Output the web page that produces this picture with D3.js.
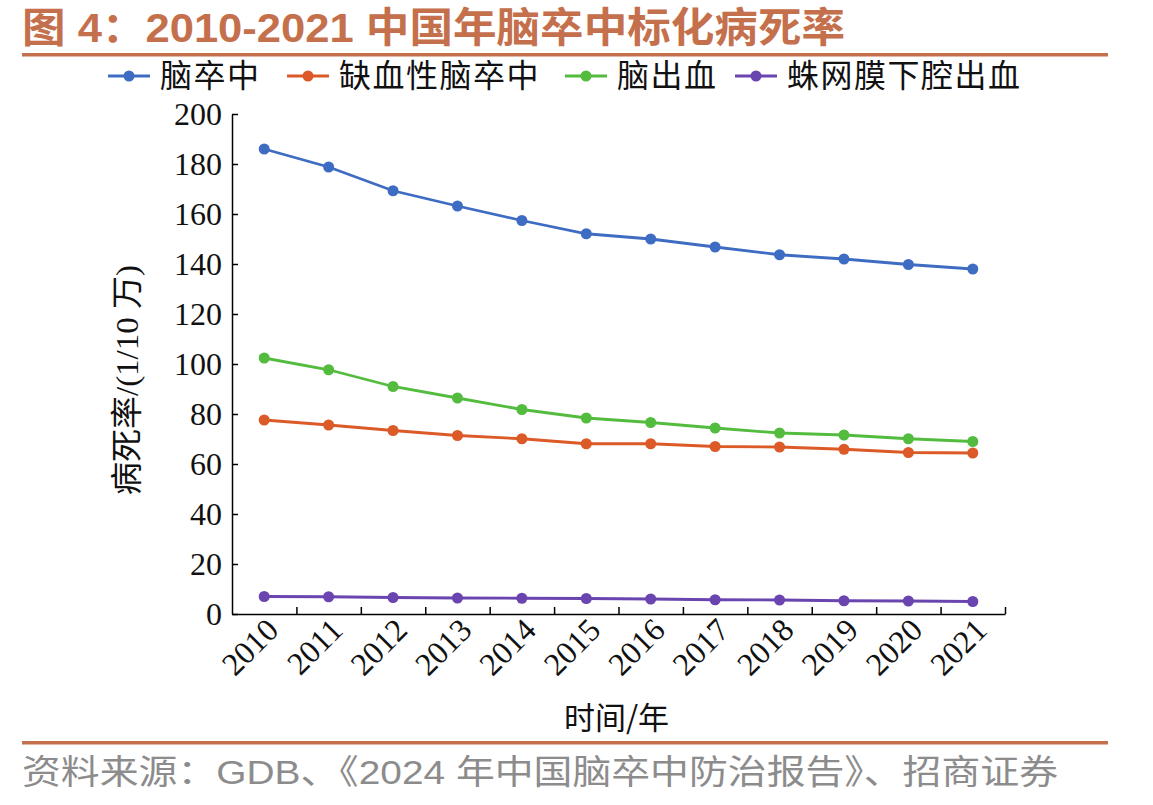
<!DOCTYPE html>
<html>
<head>
<meta charset="utf-8">
<script src="https://cdn.jsdelivr.net/npm/d3@7"></script>
<style>
  body { margin: 0; background: #fff; }
  svg { display: block; }
  .axis path, .axis line { stroke: #000; stroke-width: 1.5; }
  .axis text { font-family: "Liberation Serif", "DejaVu Serif", serif; font-size: 32px; fill: #111; }
</style>
</head>
<body>
<div id="chart"></div>
<script>
// years on the x axis
var years = ['2010', '2011', '2012', '2013', '2014', '2015', '2016', '2017', '2018', '2019', '2020', '2021'];
var yTicks = [0, 20, 40, 60, 80, 100, 120, 140, 160, 180, 200];

// series values (per 100k)
var stroke = [186.0, 178.8, 169.3, 163.2, 157.4, 152.1, 150.0, 146.8, 143.7, 142.0, 139.8, 138.0];
var ischemic = [77.6, 75.6, 73.4, 71.4, 70.1, 68.1, 68.1, 67.0, 66.8, 65.9, 64.6, 64.4];
var hemorrhage = [102.4, 97.7, 91.0, 86.4, 81.8, 78.4, 76.6, 74.4, 72.4, 71.6, 70.1, 69.0];
var subarachnoid = [7.0, 6.9, 6.6, 6.4, 6.3, 6.2, 6.0, 5.7, 5.6, 5.3, 5.2, 5.0];

var seriesNames = ['脑卒中', '缺血性脑卒中', '脑出血', '蛛网膜下腔出血'];
var seriesColors = ['#3F6CC3', '#DC5A27', '#53BC3F', '#6A44AF'];

var series = [stroke, ischemic, hemorrhage, subarachnoid].map(function(vals, i) {
  return { name: seriesNames[i], color: seriesColors[i], values: vals };
});

var W = 1153, H = 805;
var margin = { top: 114, left: 232, right: 148, bottom: 191 };
var width = W - margin.left - margin.right;
var height = H - margin.top - margin.bottom;

var svg = d3.select('#chart').append('svg')
  .attr('width', W)
  .attr('height', H);

var cjk = '"Noto Sans CJK SC", "Noto Sans", sans-serif';
var accent = '#C5704D';

// title (the original is stretched wide)
svg.append('text')
  .attr('x', 22)
  .attr('y', 42)
  .attr('textLength', 823)
  .attr('lengthAdjust', 'spacingAndGlyphs')
  .style('font-family', '"Liberation Sans", Arial, ' + cjk)
  .style('font-size', '41px')
  .style('font-weight', 'bold')
  .style('fill', accent)
  .text('图 4：2010-2021 中国年脑卒中标化病死率');

svg.append('rect')
  .attr('x', 22).attr('y', 53)
  .attr('width', 1086).attr('height', 3.5)
  .attr('fill', accent);

svg.append('rect')
  .attr('x', 22).attr('y', 741)
  .attr('width', 1086).attr('height', 3.5)
  .attr('fill', accent);

// source
svg.append('text')
  .attr('x', 22)
  .attr('y', 784)
  .attr('textLength', 1036)
  .attr('lengthAdjust', 'spacingAndGlyphs')
  .style('font-family', '"Liberation Sans", Arial, ' + cjk)
  .style('font-size', '34px')
  .style('fill', '#8c8c8c')
  .text('资料来源：GDB、《2024 年中国脑卒中防治报告》、招商证券');

var g = svg.append('g')
  .attr('transform', 'translate(' + margin.left + ',' + margin.top + ')');

// scales
var x = d3.scaleBand().domain(years).range([0, width]);
var xEdge = d3.scaleLinear().domain([0, years.length]).range([0, width]);
var y = d3.scaleLinear().domain([0, 200]).range([height, 0]);

// y axis, ticks pointing inward
g.append('g')
  .attr('class', 'axis')
  .call(d3.axisLeft(y).tickValues(yTicks).tickSizeInner(-6).tickSizeOuter(0).tickPadding(10));

// x axis: ticks on the band edges, pointing inward
g.append('g')
  .attr('class', 'axis')
  .attr('transform', 'translate(0,' + height + ')')
  .call(d3.axisBottom(xEdge).tickValues(d3.range(1, years.length + 1)).tickSizeInner(-7).tickSizeOuter(0).tickFormat(''));

// x labels, rotated
g.append('g')
  .attr('class', 'axis')
  .selectAll('text')
  .data(years)
  .enter().append('text')
  .attr('text-anchor', 'end')
  .attr('transform', function(d) {
    return 'translate(' + (x(d) + x.bandwidth() / 2 + 16) + ',' + (height + 18) + ') rotate(-45)';
  })
  .style('font-size', '32px')
  .text(function(d) { return d; });

// axis titles
g.append('text')
  .attr('transform', 'translate(' + (-94) + ',' + (height / 2 + 16) + ') rotate(-90)')
  .attr('text-anchor', 'middle')
  .attr('textLength', 230)
  .attr('lengthAdjust', 'spacingAndGlyphs')
  .style('font-family', '"Liberation Serif", ' + cjk)
  .style('font-size', '32px')
  .style('fill', '#111')
  .text('病死率/(1/10 万)');

g.append('text')
  .attr('x', width / 2 - 2)
  .attr('y', height + 115)
  .attr('text-anchor', 'middle')
  .style('font-family', cjk)
  .style('font-size', '31px')
  .style('fill', '#111')
  .text('时间/年');

// lines + points
var line = d3.line()
  .x(function(d, i) { return x(years[i]) + x.bandwidth() / 2; })
  .y(function(d) { return y(d); });

series.forEach(function(s) {
  g.append('path')
    .datum(s.values)
    .attr('fill', 'none')
    .attr('stroke', s.color)
    .attr('stroke-width', 2.8)
    .attr('d', line);

  g.selectAll(null)
    .data(s.values)
    .enter().append('circle')
    .attr('cx', function(d, i) { return x(years[i]) + x.bandwidth() / 2; })
    .attr('cy', function(d) { return y(d); })
    .attr('r', 5.5)
    .attr('fill', s.color);
});

// legend
var legendX = [108, 287, 565, 735];
var legend = svg.append('g').attr('transform', 'translate(0,76)');
series.forEach(function(s, i) {
  var lg = legend.append('g').attr('transform', 'translate(' + legendX[i] + ',0)');
  lg.append('line')
    .attr('x1', 0).attr('x2', 42)
    .attr('y1', 0).attr('y2', 0)
    .attr('stroke', s.color)
    .attr('stroke-width', 2.8);
  lg.append('circle')
    .attr('cx', 21).attr('cy', 0).attr('r', 5.5)
    .attr('fill', s.color);
  lg.append('text')
    .attr('x', 52)
    .attr('y', 11)
    .style('font-family', cjk)
    .style('font-size', '32px')
    .style('letter-spacing', '1.5px')
    .style('fill', '#111')
    .text(s.name);
});
</script>
</body>
</html>
